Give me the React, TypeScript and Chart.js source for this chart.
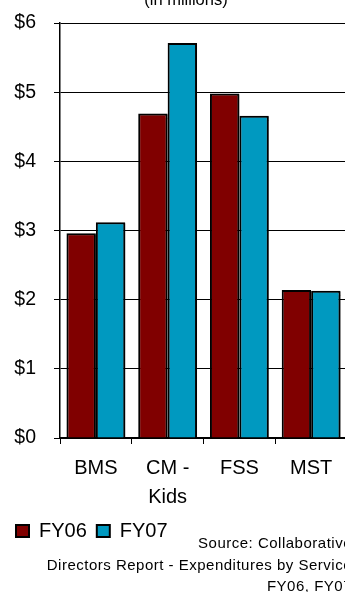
import React, { useEffect, useRef } from "react";
import { Chart, registerables } from "chart.js";

Chart.register(...registerables);

const categories: (string | string[])[] = ["BMS", ["CM -", "Kids"], "FSS", "MST"];
const fy06: number[] = [2.96, 4.69, 4.98, 2.14];
const fy07: number[] = [3.12, 5.71, 4.66, 2.13];
const seriesNames: string[] = ["FY06", "FY07"];
const yTicks: number[] = [0, 1, 2, 3, 4, 5, 6];
const titleText = "(in millions)";
const sourceLines: string[] = [
  "Source: Collaborative",
  "Directors Report - Expenditures by Service",
  "FY06, FY07",
];

const FONT = '"Liberation Sans", Arial, Helvetica, sans-serif';

// Subtitle above the plot
const titlePlugin = {
  id: "unitsTitle",
  afterDraw(chart: Chart) {
    const { ctx } = chart;
    ctx.save();
    ctx.font = `16.5px ${FONT}`;
    ctx.fillStyle = "#000";
    ctx.textAlign = "center";
    ctx.textBaseline = "alphabetic";
    ctx.fillText(titleText, 186, 5);
    ctx.restore();
  },
};

// Soft drop shadow under the bars
const barShadow = {
  id: "barShadow",
  beforeDatasetsDraw(chart: Chart) {
    const { ctx } = chart;
    ctx.save();
    ctx.shadowColor = "rgba(0,0,0,0.45)";
    ctx.shadowOffsetX = 2;
    ctx.shadowOffsetY = 1;
    ctx.shadowBlur = 1;
  },
  afterDatasetsDraw(chart: Chart) {
    chart.ctx.restore();
  },
};

export default function App() {
  const canvasRef = useRef<HTMLCanvasElement | null>(null);

  useEffect(() => {
    if (!canvasRef.current) return;
    Chart.defaults.font.family = FONT;
    Chart.defaults.color = "#000";
    const chart = new Chart(canvasRef.current, {
      type: "bar",
      data: {
        labels: categories,
        datasets: [
          {
            label: seriesNames[0],
            data: fy06,
            backgroundColor: "#800000",
            borderColor: "#000",
            borderWidth: 2,
            borderSkipped: "start",
          },
          {
            label: seriesNames[1],
            data: fy07,
            backgroundColor: "#0099C0",
            borderColor: "#000",
            borderWidth: 2,
            borderSkipped: "start",
          },
        ],
      },
      options: {
        animation: false,
        responsive: false,
        maintainAspectRatio: false,
        devicePixelRatio: 1,
        layout: { padding: { top: 23, right: 22, left: 6, bottom: 0 } },
        datasets: {
          bar: { categoryPercentage: 0.82, barPercentage: 1.0 },
        },
        scales: {
          x: {
            grid: {
              display: true,
              drawOnChartArea: false,
              drawTicks: true,
              tickLength: 6,
              color: "#000",
              lineWidth: 1,
              offset: true,
            },
            border: { display: true, color: "#000", width: 2 },
            ticks: {
              font: { size: 20, lineHeight: 1.45 },
              color: "#000",
              padding: 10,
              maxRotation: 0,
              autoSkip: false,
            },
            afterFit: (scale: any) => {
              scale.height = 73;
            },
          },
          y: {
            min: 0,
            max: 6,
            afterBuildTicks: (scale: any) => {
              scale.ticks = yTicks.map((v) => ({ value: v }));
            },
            grid: {
              color: "#000",
              lineWidth: 1,
              drawTicks: true,
              tickLength: 6,
            },
            border: { display: true, color: "#000", width: 1.5 },
            ticks: {
              font: { size: 19.5 },
              color: "#000",
              padding: 18,
              callback: (v: any) => "$" + v,
            },
            afterFit: (scale: any) => {
              scale.width = 54;
              scale.paddingTop = 0;
              scale.paddingBottom = 0;
            },
          },
        },
        plugins: {
          legend: {
            display: true,
            position: "bottom",
            align: "start",
            labels: {
              boxWidth: 13,
              boxHeight: 12,
              padding: 10,
              color: "#000",
              font: { size: 20 },
            },
          },
          title: { display: false },
          tooltip: { enabled: false },
        },
      },
      plugins: [titlePlugin, barShadow],
    });
    return () => chart.destroy();
  }, []);

  return (
    <div
      style={{
        position: "absolute",
        left: 0,
        top: 0,
        width: 345,
        height: 592,
        overflow: "hidden",
        background: "#fff",
      }}
    >
      <canvas
        ref={canvasRef}
        width={369}
        height={551}
        style={{ position: "absolute", left: 0, top: 0, width: 369, height: 551 }}
      />
      <div
        style={{
          position: "absolute",
          right: -7,
          top: 532,
          width: 420,
          textAlign: "right",
          fontFamily: FONT,
          fontSize: 15,
          letterSpacing: "0.5px",
          lineHeight: "21.5px",
          color: "#000",
          whiteSpace: "nowrap",
        }}
      >
        {sourceLines.map((line, i) => (
          <div key={i}>{line}</div>
        ))}
      </div>
    </div>
  );
}
